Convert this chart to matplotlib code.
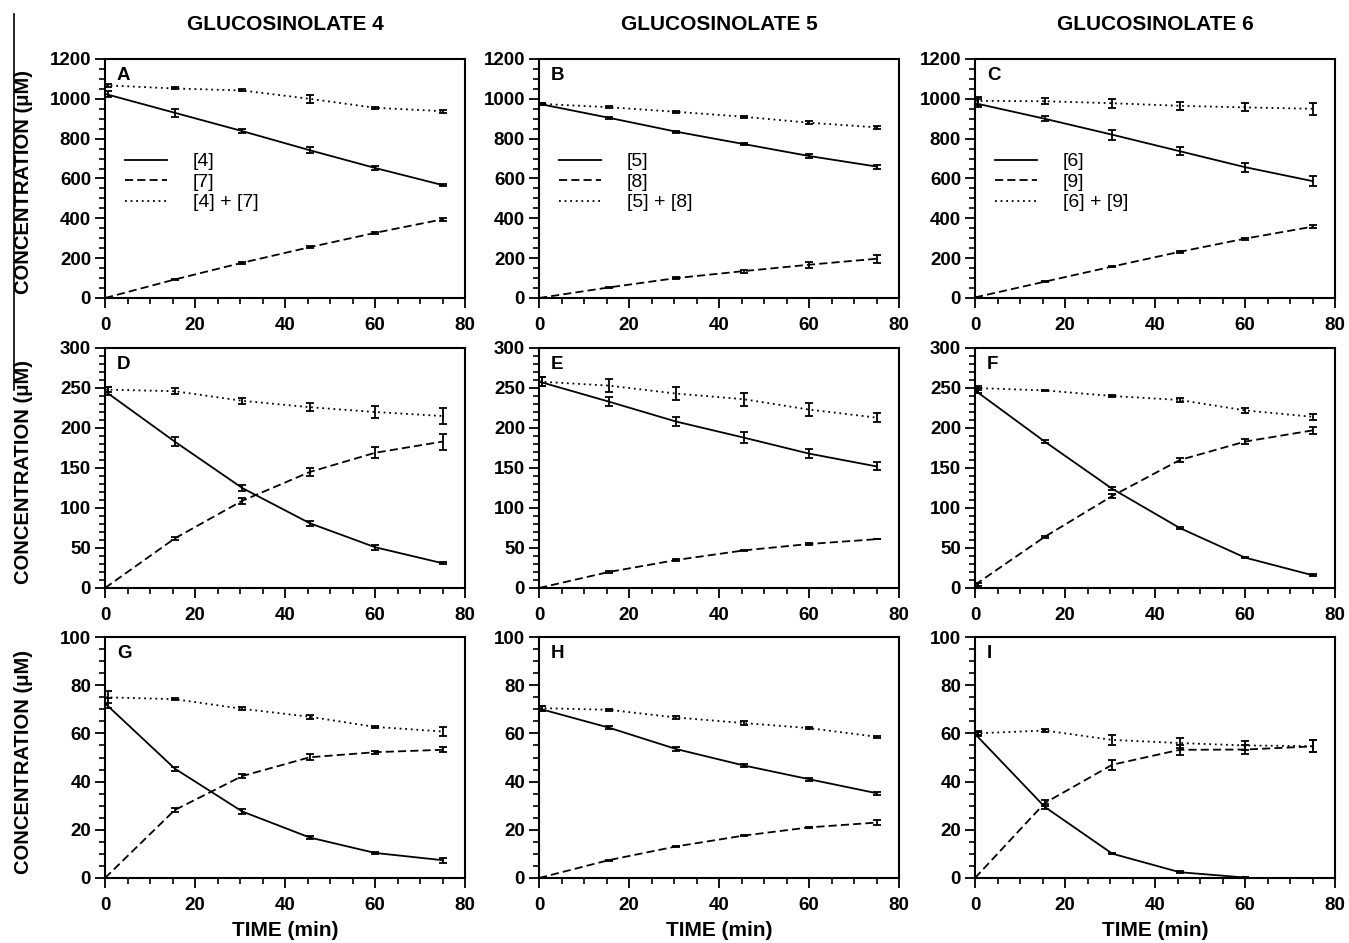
import numpy as np
import matplotlib
matplotlib.use('Agg')
import matplotlib.pyplot as plt
from matplotlib.ticker import MultipleLocator
from matplotlib.lines import Line2D

plt.rcParams['font.family'] = ['Liberation Sans', 'DejaVu Sans']
plt.rcParams['font.weight'] = 'bold'

# sampling times (min); the fitted curves start at t = 0
t_pts = [0.7, 15.5, 30.5, 45.5, 60, 75]
t_line = [0, 15.5, 30.5, 45.5, 60, 75]

nan = np.nan

# each panel: [solid, dashed, dotted] means and errors
A_mean = [[1025, 930, 838, 742, 653, 567], [0, 93, 177, 255, 327, 395], [1068, 1052, 1042, 1000, 955, 938]]
A_err = [[15, 20, 12, 15, 8, 5], [0, 4, 4, 5, 5, 8], [8, 5, 5, 20, 5, 8]]
B_mean = [[975, 905, 835, 773, 713, 660], [0, 53, 100, 135, 167, 197], [975, 958, 935, 910, 880, 857]]
B_err = [[5, 5, 5, 5, 10, 10], [0, 3, 5, 8, 15, 20], [5, 5, 5, 5, 8, 8]]
C_mean = [[978, 900, 820, 737, 657, 587], [3, 82, 158, 232, 298, 358], [990, 988, 978, 965, 957, 950]]
C_err = [[20, 12, 25, 20, 22, 25], [3, 3, 3, 4, 5, 8], [20, 15, 22, 20, 20, 30]]

D_mean = [[246, 183, 125, 81, 51, 31], [0, 62, 109, 145, 169, 183], [248, 246, 234, 226, 220, 215]]
D_err = [[5, 6, 4, 3, 3, 1], [0, 2, 4, 5, 7, 10], [3, 4, 4, 5, 7, 10]]
E_mean = [[258, 233, 208, 188, 168, 152], [0, 20, 35, 47, 55, 61], [258, 253, 243, 236, 223, 213]]
E_err = [[6, 6, 6, 7, 6, 5], [0, 1, 1, 1, 1, 0], [6, 8, 8, 8, 8, 6]]
F_mean = [[247, 183, 124, 75, 38, 16], [4, 64, 115, 160, 183, 197], [250, 247, 240, 235, 222, 214]]
F_err = [[3, 2, 2, 1, 1, 1], [2, 1, 2, 3, 3, 4], [3, 1, 1, 2, 3, 4]]

G_mean = [[72.5, 45.4, 27.6, 16.8, 10.4, 7.4], [0, 28.2, 42.3, 50.1, 52.2, 53.2], [75, 74.2, 70.2, 66.9, 62.7, 60.8]]
G_err = [[2, 0.8, 1, 0.8, 0.4, 1], [0, 1, 1, 1.2, 0.6, 1], [2.5, 0.5, 0.6, 0.8, 0.3, 2]]
H_mean = [[70.3, 62.4, 53.5, 46.7, 41.0, 35.2], [0, 7.4, 13.1, 17.6, 21.0, 23.0], [70.5, 69.8, 66.6, 64.3, 62.2, 58.6]]
H_err = [[1, 0.7, 0.7, 0.7, 0.7, 0.6], [0, 0.2, 0.2, 0.2, 0.2, 1], [1, 0.5, 0.8, 0.8, 0.4, 0.4]]
I_mean = [[59.8, 29.5, 10.1, 2.4, 0.2, nan], [0, 31.1, 47.0, 53.2, 53.3, 54.6], [60.0, 61.2, 57.3, 56.0, 55.0, 54.7]]
I_err = [[0.8, 1, 0.3, 0.3, 0.2, nan], [0, 1.2, 2, 2, 2, 2.5], [0.8, 0.8, 2, 2, 2, 2.5]]

panel_letters = ['A', 'B', 'C', 'D', 'E', 'F', 'G', 'H', 'I']
panel_means = [A_mean, B_mean, C_mean, D_mean, E_mean, F_mean, G_mean, H_mean, I_mean]
panel_errs = [A_err, B_err, C_err, D_err, E_err, F_err, G_err, H_err, I_err]

col_titles = ['GLUCOSINOLATE 4', 'GLUCOSINOLATE 5', 'GLUCOSINOLATE 6']
legend_labels = [['[4]', '[7]', '[4] + [7]'], ['[5]', '[8]', '[5] + [8]'], ['[6]', '[9]', '[6] + [9]']]
row_ymax = [1200, 300, 100]
row_ymajor = [200, 50, 20]
row_yminor = [50, 10, 5]

W, H = 1349, 943
fig = plt.figure(figsize=(W / 100, H / 100), dpi=100)

lefts = [105, 539, 975]
ax_w = 360
tops = [59, 348, 637]
bottoms = [298, 588, 878]

styles = ['-', (0, (4.5, 2.3)), (0, (1.0, 2.1))]
lw = 1.3

for r in range(3):
    for c in range(3):
        k = r * 3 + c
        ax = fig.add_axes([lefts[c] / W, 1 - bottoms[r] / H, ax_w / W, (bottoms[r] - tops[r]) / H])
        means = panel_means[k]
        errs = panel_errs[k]
        for s in range(3):
            ax.plot(t_line, means[s], color='black', linestyle=styles[s], linewidth=lw)
            ax.errorbar(t_pts, means[s], yerr=errs[s], fmt='none', ecolor='black',
                        elinewidth=1.3, capsize=2.8, capthick=1.3)
        ax.set_xlim(0, 80)
        ax.set_ylim(0, row_ymax[r])
        ax.xaxis.set_major_locator(MultipleLocator(20))
        ax.xaxis.set_minor_locator(MultipleLocator(5))
        ax.yaxis.set_major_locator(MultipleLocator(row_ymajor[r]))
        ax.yaxis.set_minor_locator(MultipleLocator(row_yminor[r]))
        ax.tick_params(which='major', direction='out', length=7, width=1.3, labelsize=13.5)
        ax.tick_params(which='minor', direction='out', length=4, width=1.2)
        ax.tick_params(axis='x', which='major', pad=7)
        ax.tick_params(axis='y', which='major', pad=3)
        for sp in ax.spines.values():
            sp.set_linewidth(1.5)
        ax.text(0.033, 0.965, panel_letters[k], transform=ax.transAxes, ha='left', va='top',
                fontsize=13.5, fontweight='bold')
        if r == 0:
            handles = [Line2D([], [], color='black', linestyle=styles[s], linewidth=lw) for s in range(3)]
            ax.legend(handles, legend_labels[c], loc='upper left', bbox_to_anchor=(0.033, 0.64),
                      borderaxespad=0, frameon=False, handlelength=2.2, handletextpad=1.3,
                      labelspacing=0.15, prop={'size': 14, 'weight': 'normal'})
            fig.text((lefts[c] + ax_w / 2) / W, 1 - 24 / H, col_titles[c], ha='center', va='center',
                     fontsize=15, fontweight='bold')
        if c == 0:
            yc = (tops[r] + bottoms[r]) / 2 + 4
            fig.text(24 / W, 1 - yc / H, 'CONCENTRATION (μM)', rotation=90, ha='center', va='center',
                     fontsize=14.5, fontweight='bold')
        if r == 2:
            fig.text((lefts[c] + ax_w / 2) / W, 1 - 930 / H, 'TIME (min)', ha='center', va='center',
                     fontsize=15, fontweight='bold')

# page edge line at the far left
fig.add_artist(Line2D([14 / W, 14 / W], [1 - 14 / H, 1 - 390 / H], color='black', linewidth=1.2))

fig.savefig('out.png', dpi=100)
